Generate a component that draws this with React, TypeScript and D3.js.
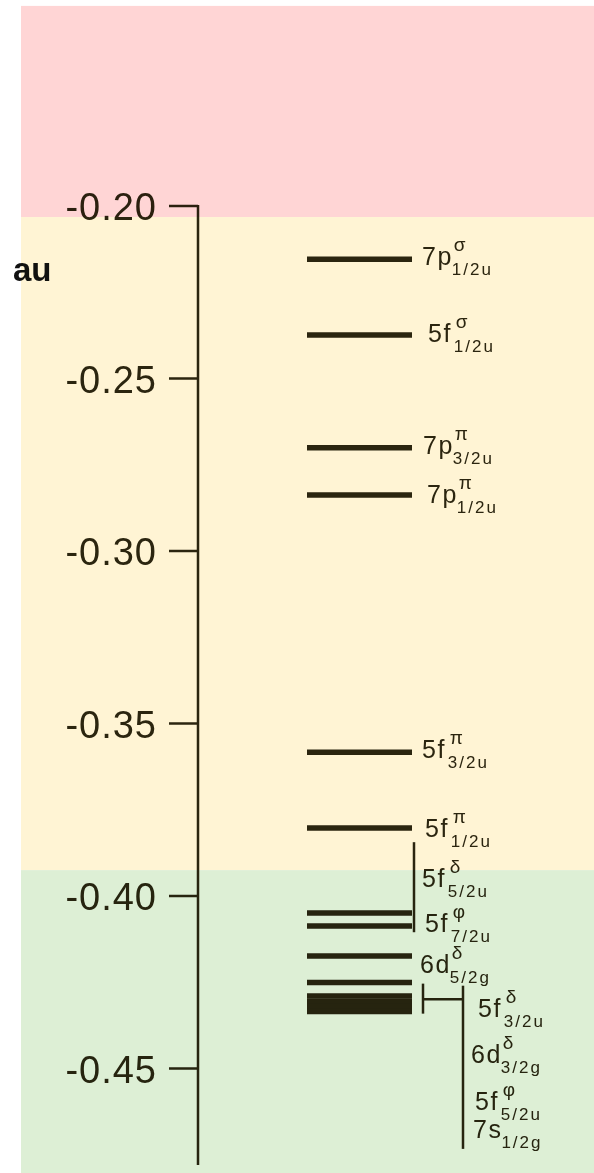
import React from "react";
import * as d3 from "d3";

// Orbital energies (au)
const levelValues = [
  -0.2154, -0.2374, -0.2701, -0.2838, -0.3583, -0.3803, -0.4049, -0.4087,
  -0.4174, -0.4251, -0.429, -0.4305, -0.432, -0.4335,
];

// Label texts: main, superscript, subscript
const labelMain = ["7p", "5f", "7p", "7p", "5f", "5f", "5f", "5f", "6d", "5f", "6d", "5f", "7s"];
const labelSup = ["σ", "σ", "π", "π", "π", "π", "δ", "φ", "δ", "δ", "δ", "φ", ""];
const labelSub = ["1/2u", "1/2u", "3/2u", "1/2u", "3/2u", "1/2u", "5/2u", "7/2u", "5/2g", "3/2u", "3/2g", "5/2u", "1/2g"];
// Label baseline anchor (au) and column
const labelValue = [-0.2171, -0.2394, -0.2719, -0.2861, -0.36, -0.3829, -0.3974, -0.4104, -0.4223, -0.4351, -0.4484, -0.462, -0.4701];
const labelColumn = [0, 0, 0, 0, 0, 0, 0, 0, 0, 1, 1, 1, 1];
const labelNudge = [0, 6, 1, 5, 0, 3, 0, 3, -2, 4, -3, 1, -1];

// Axis ticks
const tickValues = [-0.2, -0.25, -0.3, -0.35, -0.4, -0.45];
const axisDomain = [-0.2, -0.478];

// Background regions (au)
const bandStart = [-0.142, -0.2032, -0.3925];
const bandEnd = [-0.2032, -0.3925, -0.4803];
const bandColor = ["#ffd5d5", "#fff4d4", "#ddefd5"];

// Bracket annotations (au)
const bracket1 = [-0.3844, -0.4105];
const bracket2Short = [-0.4254, -0.4341];
const bracket2Join = -0.4299;
const bracket2Long = [-0.426, -0.4733];

const W = 594;
const H = 1173;
const ink = "#2b2612";

const charW: Record<string, number> = { "5": 0.556, "6": 0.556, "7": 0.556, p: 0.556, d: 0.556, f: 0.278, s: 0.5 };
const textWidth = (s: string, size: number, ls: number) =>
  s.split("").reduce((a, c) => a + (charW[c] ?? 0.556) * size + ls, 0);

export default function App() {
  const y = d3.scaleLinear().domain([-0.2, -0.25]).range([206, 378.5]);
  const axisX = 198;
  const barX0 = 307;
  const barX1 = 412;
  const colX = [422, 474];
  const mainSize = 25;
  const mainLS = 1.5;

  return (
    <svg
      width={W}
      height={H}
      style={{ position: "absolute", left: 0, top: 0, fontFamily: "'Liberation Sans', Arial, sans-serif" }}
    >
      {bandStart.map((s, i) => (
        <rect key={"b" + i} x={21} width={W - 21} y={y(s)} height={y(bandEnd[i]) - y(s)} fill={bandColor[i]} />
      ))}
      <g style={{ mixBlendMode: "multiply" }}>
        {/* axis */}
        <line x1={axisX} x2={axisX} y1={y(axisDomain[0]) - 1} y2={y(axisDomain[1])} stroke={ink} strokeWidth={2.5} />
        {tickValues.map((t, i) => (
          <g key={"t" + i}>
            <line x1={axisX - 29} x2={axisX} y1={y(t)} y2={y(t)} stroke={ink} strokeWidth={2.5} />
            <text x={157} y={y(t) + 14} textAnchor="end" fontSize={38} letterSpacing={1} fill={ink}>
              {t.toFixed(2)}
            </text>
          </g>
        ))}
        <text x={13} y={281} fontSize={33} fontWeight="bold" fill="#111">
          au
        </text>
        {/* levels */}
        {levelValues.map((v, i) => (
          <line key={"l" + i} x1={barX0} x2={barX1} y1={y(v)} y2={y(v)} stroke={ink} strokeWidth={5.5} />
        ))}
        {/* brackets */}
        <line x1={414} x2={414} y1={y(bracket1[0])} y2={y(bracket1[1])} stroke={ink} strokeWidth={2.5} />
        <line x1={423} x2={423} y1={y(bracket2Short[0])} y2={y(bracket2Short[1])} stroke={ink} strokeWidth={2.5} />
        <line x1={423} x2={463} y1={y(bracket2Join)} y2={y(bracket2Join)} stroke={ink} strokeWidth={2.5} />
        <line x1={463} x2={463} y1={y(bracket2Long[0])} y2={y(bracket2Long[1])} stroke={ink} strokeWidth={2.5} />
        {/* labels */}
        {labelMain.map((m, i) => {
          const x = colX[labelColumn[i]] + labelNudge[i];
          const by = y(labelValue[i]);
          const mainW = textWidth(m, mainSize, mainLS);
          const fAdj = m.endsWith("f") ? 3 : 0;
          return (
            <g key={"lab" + i} fill={ink}>
              <text x={x} y={by} fontSize={mainSize} letterSpacing={mainLS}>
                {m}
              </text>
              {labelSup[i] && (
                <text x={x + mainW + 1 + fAdj} y={by - 14} fontSize={19}>
                  {labelSup[i]}
                </text>
              )}
              <text x={x + mainW - 1 + fAdj} y={by + 10} fontSize={17} letterSpacing={2}>
                {labelSub[i]}
              </text>
            </g>
          );
        })}
      </g>
    </svg>
  );
}
